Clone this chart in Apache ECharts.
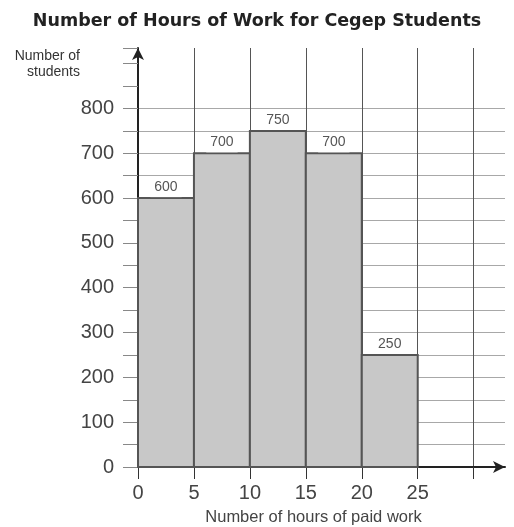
<!DOCTYPE html>
<html>
<head>
<meta charset="utf-8">
<script src="https://cdn.jsdelivr.net/npm/echarts@6/dist/echarts.min.js"></script>
<style>
  html, body { margin: 0; padding: 0; background: #fff; }
  #hist { width: 514px; height: 527px; }
</style>
</head>
<body>
<div id="hist"></div>
<script>
// histogram classes (hours of paid work) and counts
const binStart = [0, 5, 10, 15, 20]
const binEnd = [5, 10, 15, 20, 25]
const students = [600, 700, 750, 700, 250]
const xTicks = [0, 5, 10, 15, 20, 25, 30]
const xLabels = [0, 5, 10, 15, 20, 25]

const bins = binStart.map((s, i) => [s, binEnd[i], students[i]])

// 0..800 lines shown, 850/900/top hidden
const hLineColors = []
for (let i = 0; i < 20; i++) {
  hLineColors.push(i <= 16 ? '#a8a8a8' : 'transparent')
}

const chart = echarts.init(document.getElementById('hist'))
chart.setOption({
  animation: false,
  title: {
    text: 'Number of Hours of Work for Cegep Students',
    left: 'center',
    top: 7,
    textStyle: {
      fontFamily: 'DejaVu Sans',
      fontSize: 17.5,
      fontWeight: 'bold',
      color: '#222'
    }
  },
  grid: {
    left: 138,
    right: 9,
    top: 48,
    bottom: 60,
    containLabel: false,
    outerBoundsMode: 'none'
  },
  xAxis: {
    type: 'value',
    min: 0,
    max: 32.8,
    interval: 5,
    name: 'Number of hours of paid work',
    nameLocation: 'middle',
    nameGap: 42,
    nameTextStyle: {
      fontFamily: 'Liberation Sans',
      fontSize: 16.5,
      color: '#444',
      padding: [0, 16, 0, 0]
    },
    axisLine: {
      lineStyle: { color: '#222', width: 2 },
      symbol: ['none', 'arrow'],
      symbolSize: [9, 12]
    },
    axisTick: {
      show: true,
      length: 12,
      customValues: xTicks,
      lineStyle: { color: '#333', width: 1 }
    },
    axisLabel: {
      customValues: xTicks,
      margin: 16,
      fontFamily: 'Liberation Sans',
      fontSize: 20,
      color: '#444',
      formatter: function (v) {
        return xLabels.indexOf(v) !== -1 ? String(v) : ''
      }
    },
    splitLine: {
      show: true,
      lineStyle: { color: '#555', width: 1 }
    }
  },
  yAxis: {
    type: 'value',
    min: 0,
    max: 935,
    interval: 50,
    name: 'Number of\nstudents',
    nameLocation: 'end',
    nameGap: 0,
    nameTextStyle: {
      fontFamily: 'Liberation Sans',
      fontSize: 14,
      lineHeight: 16,
      color: '#333',
      align: 'right',
      verticalAlign: 'top',
      padding: [0, 58, 0, 0]
    },
    axisLine: {
      show: true,
      lineStyle: { color: '#222', width: 2 },
      symbol: ['none', 'arrow'],
      symbolSize: [9, 12]
    },
    axisTick: {
      show: true,
      length: 15,
      lineStyle: { color: '#888', width: 1 }
    },
    axisLabel: {
      margin: 24,
      fontFamily: 'Liberation Sans',
      fontSize: 20,
      color: '#444',
      formatter: function (v) {
        return (v % 100 === 0 && v <= 800) ? String(v) : ''
      }
    },
    splitLine: {
      show: true,
      showMaxLine: false,
      lineStyle: { color: hLineColors, width: 1 }
    }
  },
  series: [{
    type: 'custom',
    data: bins,
    encode: { x: [0, 1], y: 2 },
    renderItem: function (params, api) {
      const topLeft = api.coord([api.value(0), api.value(2)])
      const bottomRight = api.coord([api.value(1), 0])
      return {
        type: 'group',
        children: [{
          type: 'rect',
          shape: {
            x: topLeft[0],
            y: topLeft[1],
            width: bottomRight[0] - topLeft[0],
            height: bottomRight[1] - topLeft[1]
          },
          style: { fill: '#c8c8c8', stroke: '#555', lineWidth: 2 }
        }, {
          type: 'text',
          x: (topLeft[0] + bottomRight[0]) / 2,
          y: topLeft[1] - 1,
          style: {
            text: String(api.value(2)),
            fill: '#555',
            fontFamily: 'Liberation Sans',
            fontSize: 14,
            align: 'center',
            verticalAlign: 'bottom',
            backgroundColor: '#fff',
            padding: [3, 4]
          }
        }]
      }
    }
  }]
})
</script>
</body>
</html>
